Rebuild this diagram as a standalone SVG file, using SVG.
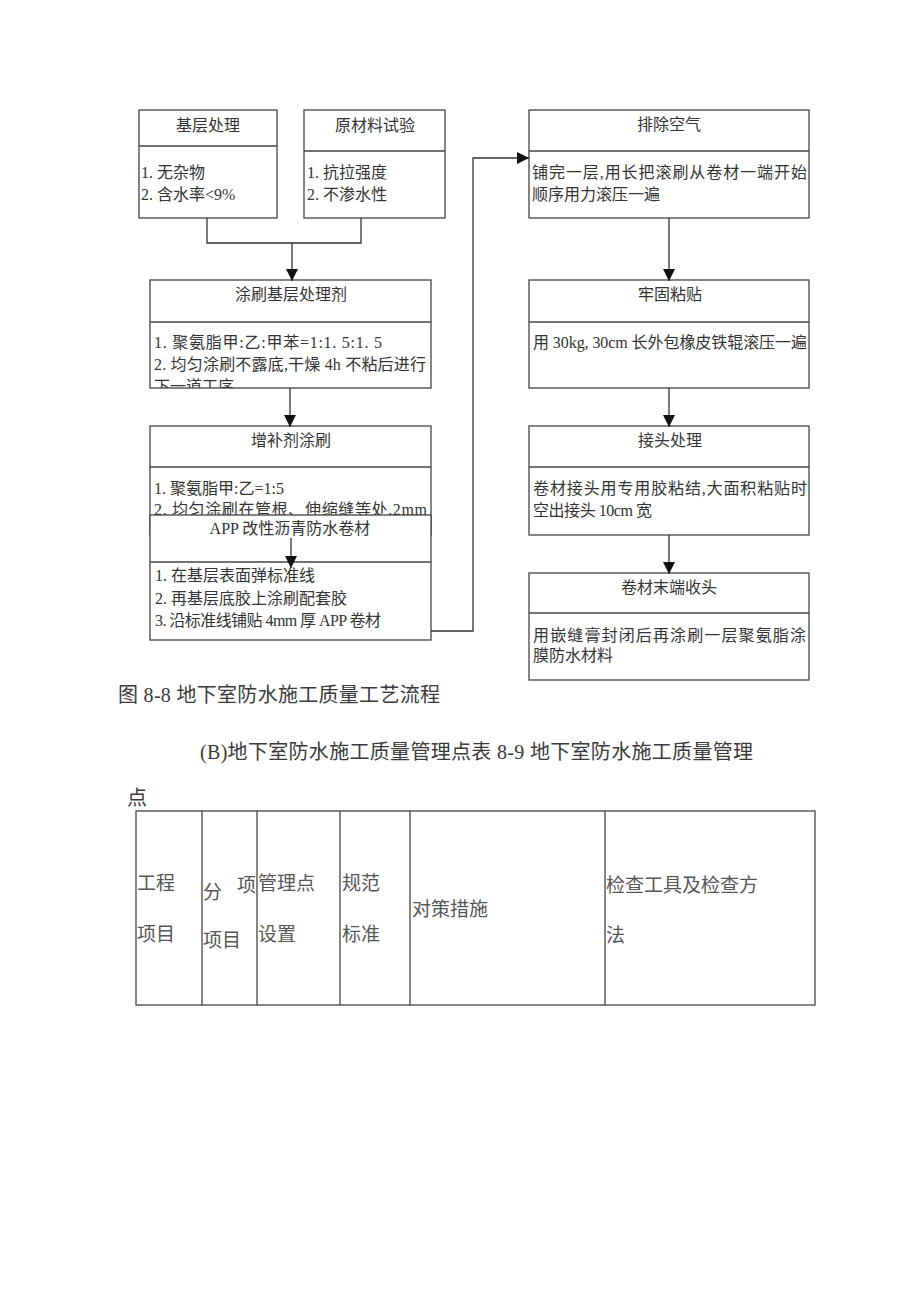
<svg xmlns="http://www.w3.org/2000/svg" width="920" height="1302" viewBox="0 0 920 1302">
<style>
.bx{fill:#fff;stroke:#444;stroke-width:1.3}
.dv{stroke:#444;stroke-width:1.3}
.t{font-family:"Liberation Serif","Noto Sans CJK SC",serif;font-size:16px;fill:#333}
.tc{text-anchor:middle}
.cap{font-family:"Liberation Serif","Noto Sans CJK SC",serif;font-size:20px;fill:#3a3a3a}
.tb{font-family:"Liberation Serif","Noto Sans CJK SC",serif;font-size:19px;fill:#555}
.cn{fill:none;stroke:#333;stroke-width:1.3}
.tl{fill:none;stroke:#444;stroke-width:1.3}
</style>
<defs>
<marker id="ah" markerUnits="userSpaceOnUse" markerWidth="12" markerHeight="12" viewBox="0 0 10 10" refX="10" refY="5" orient="auto">
<path d="M0,0 L10,5 L0,10 z" fill="#111"/>
</marker>
<clipPath id="c3"><rect x="150" y="322" width="281" height="66"/></clipPath>
</defs>
<rect width="920" height="1302" fill="#fff"/>

<g id="n1">
<rect class="bx" x="139" y="110" width="138" height="108"/>
<line class="dv" x1="139" y1="146" x2="277" y2="146"/>
<text class="t tc" x="208" y="131">基层处理</text>
<text class="t" x="141" y="178">1. 无杂物</text>
<text class="t" x="141" y="200">2. 含水率&lt;9%</text>
</g>

<g id="n2">
<rect class="bx" x="304" y="110" width="141" height="108"/>
<line class="dv" x1="304" y1="151" x2="445" y2="151"/>
<text class="t tc" x="375" y="131">原材料试验</text>
<text class="t" x="307" y="178">1. 抗拉强度</text>
<text class="t" x="307" y="200">2. 不渗水性</text>
</g>

<g id="n3">
<rect class="bx" x="150" y="280" width="281" height="108"/>
<line class="dv" x1="150" y1="322" x2="431" y2="322"/>
<text class="t tc" x="291" y="300">涂刷基层处理剂</text>
<text class="t" x="154" y="348" textLength="228">1. 聚氨脂甲:乙:甲苯=1:1. 5:1. 5</text>
<text class="t" x="154" y="370" textLength="272">2. 均匀涂刷不露底,干燥 4h 不粘后进行</text>
<text class="t" x="154" y="392" clip-path="url(#c3)">下一道工序</text>
</g>

<g id="n4">
<rect class="bx" x="150" y="426" width="281" height="109"/>
<line class="dv" x1="150" y1="467" x2="431" y2="467"/>
<text class="t tc" x="291" y="446">增补剂涂刷</text>
<text class="t" x="154" y="494">1. 聚氨脂甲:乙=1:5</text>
<text class="t" x="154" y="515" textLength="273">2. 均匀涂刷在管根、伸缩缝等处,2mm</text>
</g>

<g id="n5">
<rect class="bx" x="150" y="515" width="281" height="125"/>
<line class="dv" x1="150" y1="562" x2="431" y2="562"/>
<text class="t tc" x="290" y="534">APP 改性沥青防水卷材</text>
<text class="t" x="155" y="581">1. 在基层表面弹标准线</text>
<text class="t" x="155" y="604">2. 再基层底胶上涂刷配套胶</text>
<text class="t" x="155" y="626" textLength="226">3. 沿标准线铺贴 4mm 厚 APP 卷材</text>
</g>

<g id="n6">
<rect class="bx" x="529" y="110" width="280" height="108"/>
<line class="dv" x1="529" y1="151" x2="809" y2="151"/>
<text class="t tc" x="669" y="130">排除空气</text>
<text class="t" x="532" y="178" textLength="275">铺完一层,用长把滚刷从卷材一端开始</text>
<text class="t" x="532" y="200">顺序用力滚压一遍</text>
</g>

<g id="n7">
<rect class="bx" x="529" y="280" width="280" height="108"/>
<line class="dv" x1="529" y1="322" x2="809" y2="322"/>
<text class="t tc" x="670" y="300">牢固粘贴</text>
<text class="t" x="533" y="348" textLength="274">用 30kg, 30cm 长外包橡皮铁辊滚压一遍</text>
</g>

<g id="n8">
<rect class="bx" x="529" y="426" width="280" height="109"/>
<line class="dv" x1="529" y1="467" x2="809" y2="467"/>
<text class="t tc" x="670" y="446">接头处理</text>
<text class="t" x="533" y="494" textLength="274">卷材接头用专用胶粘结,大面积粘贴时</text>
<text class="t" x="533" y="516" textLength="119">空出接头 10cm 宽</text>
</g>

<g id="n9">
<rect class="bx" x="529" y="573" width="280" height="107"/>
<line class="dv" x1="529" y1="613" x2="809" y2="613"/>
<text class="t tc" x="669" y="593">卷材末端收头</text>
<text class="t" x="533" y="641" textLength="273">用嵌缝膏封闭后再涂刷一层聚氨脂涂</text>
<text class="t" x="533" y="661">膜防水材料</text>
</g>

<g id="connectors">
<polyline class="cn" points="207,218 207,243 361,243 361,218"/>
<line class="cn" x1="292" y1="243" x2="292" y2="281" marker-end="url(#ah)"/>
<line class="cn" x1="290" y1="388" x2="290" y2="427" marker-end="url(#ah)"/>
<line class="cn" x1="291" y1="538" x2="291" y2="568" marker-end="url(#ah)"/>
<polyline class="cn" points="431,631 473,631 473,158 529,158" marker-end="url(#ah)"/>
<line class="cn" x1="669" y1="218" x2="669" y2="281" marker-end="url(#ah)"/>
<line class="cn" x1="669" y1="388" x2="669" y2="427" marker-end="url(#ah)"/>
<line class="cn" x1="669" y1="535" x2="669" y2="574" marker-end="url(#ah)"/>
</g>

<g id="captions">
<text class="cap" x="118" y="702" textLength="322">图 8-8 地下室防水施工质量工艺流程</text>
<text class="cap" x="200" y="759" textLength="553">(B)地下室防水施工质量管理点表 8-9 地下室防水施工质量管理</text>
<text class="cap" x="127" y="805">点</text>
</g>

<g id="table">
<rect class="tl" x="136" y="811" width="679" height="194"/>
<line class="tl" x1="202" y1="811" x2="202" y2="1005"/>
<line class="tl" x1="257" y1="811" x2="257" y2="1005"/>
<line class="tl" x1="340" y1="811" x2="340" y2="1005"/>
<line class="tl" x1="410" y1="811" x2="410" y2="1005"/>
<line class="tl" x1="605" y1="811" x2="605" y2="1005"/>
<text class="tb" x="137" y="890">工程</text>
<text class="tb" x="137" y="941">项目</text>
<text class="tb" x="203" y="899">分</text>
<text class="tb" x="237" y="892">项</text>
<text class="tb" x="203" y="947">项目</text>
<text class="tb" x="258" y="890">管理点</text>
<text class="tb" x="258" y="941">设置</text>
<text class="tb" x="342" y="890">规范</text>
<text class="tb" x="342" y="941">标准</text>
<text class="tb" x="412" y="916">对策措施</text>
<text class="tb" x="606" y="892">检查工具及检查方</text>
<text class="tb" x="606" y="942">法</text>
</g>
</svg>
